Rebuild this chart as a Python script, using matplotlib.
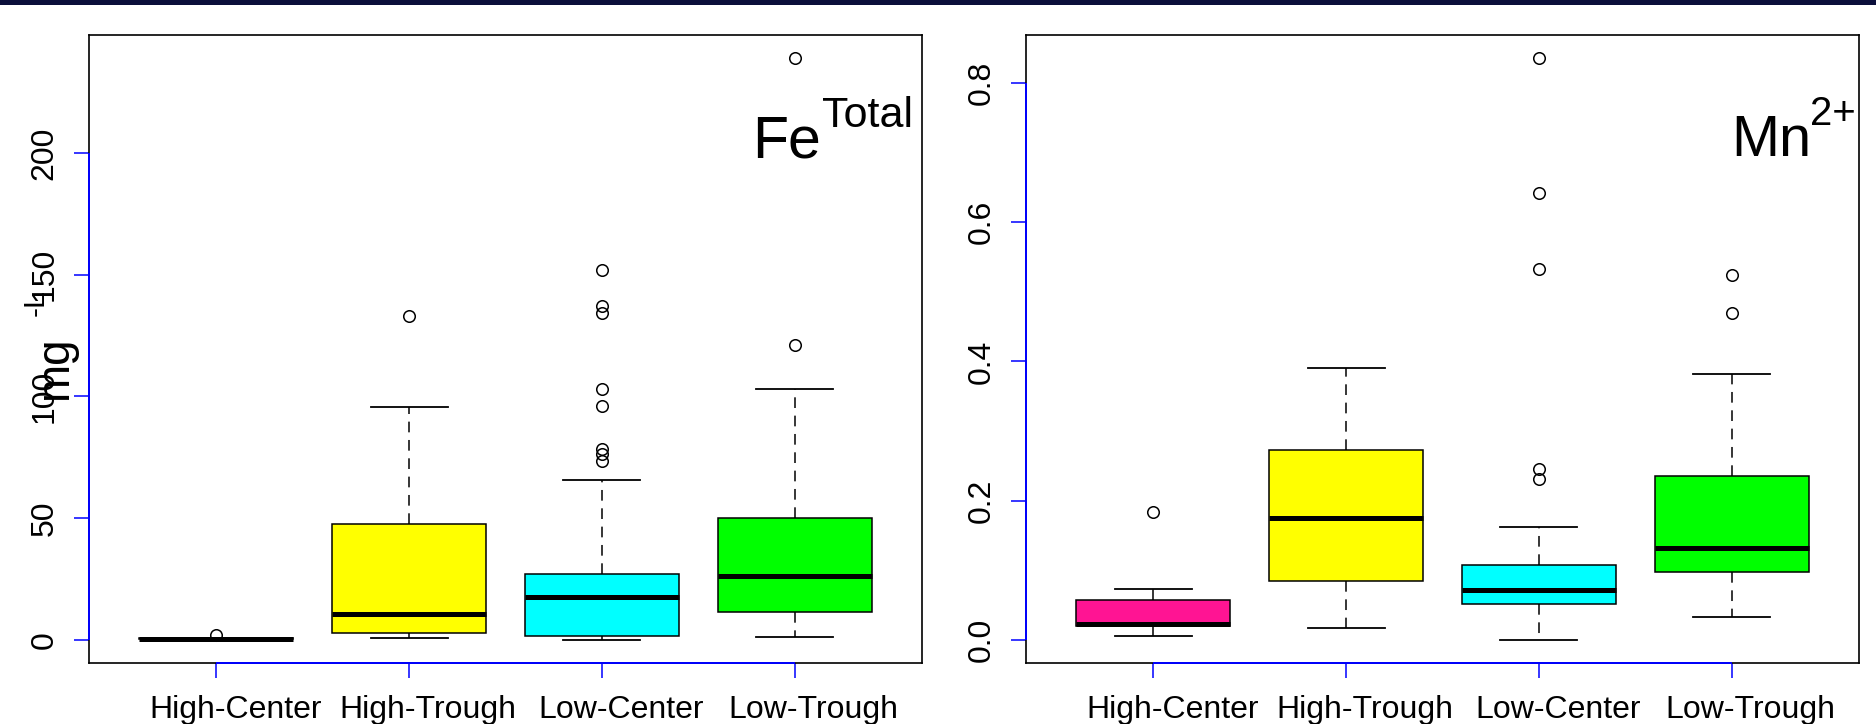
import matplotlib
matplotlib.use('Agg')
import matplotlib.pyplot as plt
from matplotlib.patches import Rectangle
from matplotlib.transforms import ScaledTranslation

plt.rcParams['font.family'] = ['Liberation Sans', 'DejaVu Sans']

# ---------------- data ----------------
categories = ["High-Center", "High-Trough", "Low-Center", "Low-Trough"]
box_colors = ["#FF1493", "#FFFF00", "#00FFFF", "#00FF00"]

fe_q1 = [0.35, 2.6, 1.4, 11.2]
fe_med = [0.5, 10.5, 17.6, 26.0]
fe_q3 = [0.65, 47.6, 27.2, 50.0]
fe_whislo = [0.2, 0.9, 0.0, 1.1]
fe_whishi = [0.9, 95.6, 65.6, 103.0]
fe_fliers = [[1.9], [133.0],
             [152.1, 137.2, 134.2, 103.0, 95.9, 78.6, 76.4, 73.4],
             [121.1, 239.0]]
fe_yticks = [0, 50, 100, 150, 200]
fe_yticklabels = ["0", "50", "100", "150", "200"]

mn_q1 = [0.020, 0.084, 0.052, 0.098]
mn_med = [0.0225, 0.1755, 0.072, 0.132]
mn_q3 = [0.0568, 0.273, 0.108, 0.2347]
mn_whislo = [0.0052, 0.0166, 0.0, 0.033]
mn_whishi = [0.0726, 0.390, 0.1615, 0.3815]
mn_fliers = [[0.184], [], [0.8355, 0.642, 0.532, 0.246, 0.231], [0.524, 0.470]]
mn_yticks = [0.0, 0.2, 0.4, 0.6, 0.8]
mn_yticklabels = ["0.0", "0.2", "0.4", "0.6", "0.8"]

# ---------------- figure ----------------
W, H = 1876, 724
fig = plt.figure(figsize=(W / 100, H / 100), dpi=100)
fig.patches.append(Rectangle((0, 1 - 5 / H), 1, 5 / H, transform=fig.transFigure,
                             facecolor='#0b0f3b', edgecolor='none', zorder=0))

ax_w = 833 / W
ax_h = 628 / H
ax_b = (H - 663) / H
ax1 = fig.add_axes([89 / W, ax_b, ax_w, ax_h])
ax2 = fig.add_axes([1026 / W, ax_b, ax_w, ax_h])

FS = 23.0


def draw(ax, q1, med, q3, lo, hi, fliers, yticks, yticklabels):
    stats = []
    for i, cat in enumerate(categories):
        stats.append(dict(q1=q1[i], med=med[i], q3=q3[i], whislo=lo[i],
                          whishi=hi[i], fliers=fliers[i], label=cat))
    bp = ax.bxp(stats, positions=[1, 2, 3, 4], widths=0.8, capwidths=0.4,
                patch_artist=True,
                boxprops=dict(edgecolor='black', linewidth=1.1),
                medianprops=dict(color='black', linewidth=3.6, solid_capstyle='butt'),
                whiskerprops=dict(color='black', linewidth=1.1, linestyle=(0, (7, 5))),
                capprops=dict(color='black', linewidth=1.3),
                flierprops=dict(marker='o', markerfacecolor='none',
                                markeredgecolor='black', markersize=8.3,
                                markeredgewidth=1.1))
    for patch, c in zip(bp['boxes'], box_colors):
        patch.set_facecolor(c)
    allv = list(lo) + list(hi) + [v for f in fliers for v in f]
    vmin, vmax = min(allv), max(allv)
    pad = 0.04 * (vmax - vmin)
    ax.set_ylim(vmin - pad, vmax + pad)
    ax.set_xlim(0.34, 4.66)
    ax.set_yticks(yticks)
    ax.set_yticklabels(yticklabels)
    ax.set_xticks([1, 2, 3, 4])
    ax.set_xticklabels(categories)
    ax.tick_params(axis='both', color='blue', length=10.8, width=1.1,
                   labelsize=FS, labelcolor='black')
    ax.tick_params(axis='x', pad=12)
    ax.tick_params(axis='y', pad=10.5)
    for lbl in ax.get_yticklabels():
        lbl.set_rotation(90)
        lbl.set_va('center')
    shift = ScaledTranslation(19 / 100, 0, fig.dpi_scale_trans)
    for lbl in ax.get_xticklabels():
        lbl.set_transform(lbl.get_transform() + shift)
    for s in ax.spines.values():
        s.set_color('black')
        s.set_linewidth(1.2)
    ax.plot([0, 0], [yticks[0], yticks[-1]], transform=ax.get_yaxis_transform(),
            color='blue', lw=1.4, clip_on=False, zorder=5, solid_capstyle='butt')
    ax.plot([1, 4], [0, 0], transform=ax.get_xaxis_transform(),
            color='blue', lw=1.4, clip_on=False, zorder=5, solid_capstyle='butt')


draw(ax1, fe_q1, fe_med, fe_q3, fe_whislo, fe_whishi, fe_fliers, fe_yticks, fe_yticklabels)
draw(ax2, mn_q1, mn_med, mn_q3, mn_whislo, mn_whishi, mn_fliers, mn_yticks, mn_yticklabels)


def fx(x):
    return x / W


def fy(y):
    return 1 - y / H


# panel labels
fig.text(fx(821), fy(157), "Fe", fontsize=42.5, ha='right', va='baseline')
fig.text(fx(822), fy(127), "Total", fontsize=31.0, ha='left', va='baseline')
fig.text(fx(1811), fy(156), "Mn", fontsize=41.5, ha='right', va='baseline')
fig.text(fx(1810), fy(125), "2+", fontsize=28.9, ha='left', va='baseline')

# y label (overlapping the tick labels as in the original)
fig.text(fx(67), fy(368), "mg", fontsize=33, rotation=90, rotation_mode='anchor',
         ha='center', va='baseline')
fig.text(fx(44), fy(303), "-L", fontsize=21.5, rotation=90, rotation_mode='anchor',
         ha='center', va='baseline')

fig.savefig('out.png', dpi=100)
